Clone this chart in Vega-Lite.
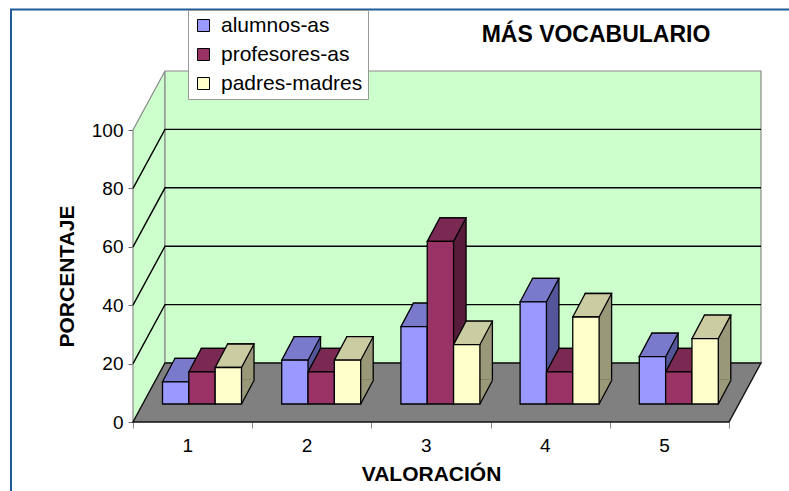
{
  "$schema": "https://vega.github.io/schema/vega-lite/v6.json",
  "autosize": "none",
  "width": 596,
  "height": 292,
  "padding": {"left": 133, "top": 130, "right": 60, "bottom": 69},
  "background": "white",
  "config": {
    "view": {"stroke": null},
    "font": "Liberation Sans"
  },
  "title": {
    "text": "MÁS VOCABULARIO",
    "fontSize": 23,
    "fontWeight": "bold",
    "color": "black",
    "anchor": "middle",
    "frame": "group",
    "dx": 165,
    "offset": -41
  },
  "datasets": {
    "bars": [
      {"val": "1", "serie": "alumnos-as", "pct": 7.6},
      {"val": "1", "serie": "profesores-as", "pct": 11},
      {"val": "1", "serie": "padres-madres", "pct": 12.5},
      {"val": "2", "serie": "alumnos-as", "pct": 15},
      {"val": "2", "serie": "profesores-as", "pct": 11},
      {"val": "2", "serie": "padres-madres", "pct": 15},
      {"val": "3", "serie": "alumnos-as", "pct": 26.5},
      {"val": "3", "serie": "profesores-as", "pct": 55.7},
      {"val": "3", "serie": "padres-madres", "pct": 20.3},
      {"val": "4", "serie": "alumnos-as", "pct": 35},
      {"val": "4", "serie": "profesores-as", "pct": 11},
      {"val": "4", "serie": "padres-madres", "pct": 29.8},
      {"val": "5", "serie": "alumnos-as", "pct": 16.2},
      {"val": "5", "serie": "profesores-as", "pct": 11},
      {"val": "5", "serie": "padres-madres", "pct": 22.4}
    ],
    "grid": [{"v": 20}, {"v": 40}, {"v": 60}, {"v": 80}],
    "one": [{"k": 0}]
  },
  "resolve": {"scale": {"color": "independent", "xOffset": "independent"}},
  "layer": [
    {
      "data": {"name": "one"},
      "mark": {"type": "point", "shape": "M-420,70 L-420,-412.5 L360,-412.5", "size": 4, "filled": false, "stroke": "#1f5b99", "strokeWidth": 2, "opacity": 1},
      "encoding": {"y": {"datum": 0, "type": "quantitative"}}
    },
    {
      "data": {"name": "one"},
      "mark": {"type": "point", "shape": "M-298,0 L-298,-292 L-266,-351 L-266,-59 Z", "size": 4, "filled": true, "fill": "#ccffcc", "stroke": "#8a8a8a", "strokeWidth": 1.2, "opacity": 1},
      "encoding": {"y": {"datum": 0, "type": "quantitative"}}
    },
    {
      "data": {"name": "one"},
      "mark": {"type": "point", "shape": "M-266,-59 L-266,-351 L330,-351 L330,-59 Z", "size": 4, "filled": true, "fill": "#ccffcc", "stroke": "#8a8a8a", "strokeWidth": 1.2, "opacity": 1},
      "encoding": {"y": {"datum": 0, "type": "quantitative"}}
    },
    {
      "data": {"name": "grid"},
      "mark": {"type": "point", "shape": "M-298,0 L-266,-59 L330,-59", "size": 4, "filled": false, "stroke": "black", "strokeWidth": 1.4, "opacity": 1},
      "encoding": {"y": {"field": "v", "type": "quantitative"}}
    },
    {
      "data": {"name": "one"},
      "mark": {"type": "point", "shape": "M-298,0 L298,0 L330,-59 L-266,-59 Z", "size": 4, "filled": true, "fill": "#808080", "stroke": "#111", "strokeWidth": 1.4, "opacity": 1},
      "encoding": {"y": {"datum": 0, "type": "quantitative"}}
    },
    {
      "data": {"name": "bars"},
      "mark": {"type": "bar", "stroke": "black", "strokeWidth": 1.3, "yOffset": -41.5},
      "encoding": {
        "x": {"field": "val", "type": "nominal", "scale": {"paddingInner": 0, "paddingOuter": 0}},
        "xOffset": {"field": "serie", "type": "nominal", "scale": {"type": "band", "domain": ["alumnos-as", "profesores-as", "padres-madres"], "range": [42, 121], "paddingInner": 0, "paddingOuter": 0}},
        "y": {"field": "pct", "type": "quantitative"},
        "color": {"field": "serie", "type": "nominal", "scale": {"domain": ["alumnos-as", "profesores-as", "padres-madres"], "range": ["#55559a", "#561c3a", "#999979"]}, "legend": null}
      }
    },
    {
      "data": {"name": "bars"},
      "mark": {"type": "point", "shape": "M13.17,0 L25.67,-23.5 L25.4,-24.4 L13.17,-24.4 Z", "size": 4, "filled": true, "strokeWidth": 0, "opacity": 1, "yOffset": -18},
      "encoding": {
        "x": {"field": "val", "type": "nominal"},
        "xOffset": {"field": "serie", "type": "nominal", "scale": {"type": "point", "domain": ["alumnos-as", "profesores-as", "padres-madres"], "range": [42.67, 95.33], "padding": 0}},
        "y": {"datum": 0, "type": "quantitative"},
        "color": {"field": "serie", "type": "nominal", "scale": {"domain": ["alumnos-as", "profesores-as", "padres-madres"], "range": ["#55559a", "#561c3a", "#999979"]}, "legend": null}
      }
    },
    {
      "data": {"name": "bars"},
      "mark": {"type": "point", "shape": "M13.17,0 L25.67,-23.5", "size": 4, "filled": false, "stroke": "black", "strokeWidth": 1.3, "opacity": 1, "yOffset": -18},
      "encoding": {
        "x": {"field": "val", "type": "nominal"},
        "xOffset": {"field": "serie", "type": "nominal", "scale": {"type": "point", "domain": ["alumnos-as", "profesores-as", "padres-madres"], "range": [42.67, 95.33], "padding": 0}},
        "y": {"datum": 0, "type": "quantitative"}
      }
    },
    {
      "data": {"name": "bars"},
      "mark": {"type": "point", "shape": "M-13.17,0 L13.17,0 L25.67,-23.5 L-0.67,-23.5 Z", "size": 4, "filled": true, "stroke": "black", "strokeWidth": 1.3, "opacity": 1, "yOffset": -18},
      "encoding": {
        "x": {"field": "val", "type": "nominal"},
        "xOffset": {"field": "serie", "type": "nominal", "scale": {"type": "point", "domain": ["alumnos-as", "profesores-as", "padres-madres"], "range": [42.67, 95.33], "padding": 0}},
        "y": {"field": "pct", "type": "quantitative"},
        "color": {"field": "serie", "type": "nominal", "scale": {"domain": ["alumnos-as", "profesores-as", "padres-madres"], "range": ["#7a7acc", "#7a2952", "#cccca3"]}, "legend": null}
      }
    },
    {
      "data": {"name": "bars"},
      "mark": {"type": "bar", "stroke": "black", "strokeWidth": 1.3, "yOffset": -18},
      "encoding": {
        "x": {
          "field": "val", "type": "nominal",
          "axis": {"title": "VALORACIÓN", "labelAngle": 0, "domain": false, "tickBand": "extent", "tickColor": "#888", "tickSize": 6, "labelFontSize": 19, "labelColor": "black", "labelPadding": 17, "titleFontSize": 21, "titleFontWeight": "bold", "titleColor": "black", "titlePadding": 8}
        },
        "xOffset": {"field": "serie", "type": "nominal", "scale": {"type": "band", "domain": ["alumnos-as", "profesores-as", "padres-madres"], "range": [29.5, 108.5], "paddingInner": 0, "paddingOuter": 0}},
        "y": {
          "field": "pct", "type": "quantitative",
          "scale": {"domain": [0, 100], "nice": false},
          "axis": {"title": "PORCENTAJE", "values": [0, 20, 40, 60, 80, 100], "grid": false, "domain": false, "tickColor": "#666", "tickSize": 5, "labelFontSize": 19, "labelColor": "black", "labelPadding": 5, "titleFontSize": 21, "titleFontWeight": "bold", "titleColor": "black", "titlePadding": 14}
        },
        "color": {
          "field": "serie", "type": "nominal",
          "scale": {"domain": ["alumnos-as", "profesores-as", "padres-madres"], "range": ["#9999ff", "#993366", "#ffffcc"]},
          "legend": {"orient": "none", "legendX": 55, "legendY": -120, "title": null, "symbolType": "square", "symbolSize": 144, "symbolStrokeColor": "black", "symbolStrokeWidth": 1, "labelFontSize": 21, "labelColor": "black", "labelOffset": 7, "labelLimit": 300, "fillColor": "white", "strokeColor": "#999", "padding": 5, "rowPadding": 7}
        }
      }
    }
  ]
}
